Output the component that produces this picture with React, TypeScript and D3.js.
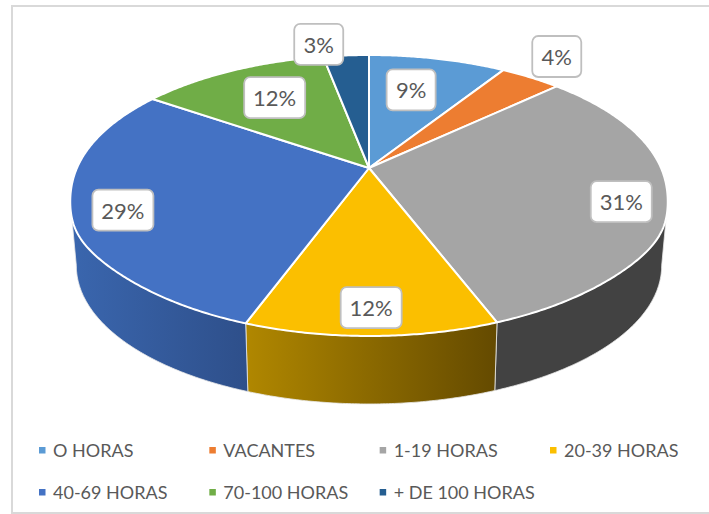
import React from "react";
import * as d3 from "d3";

const categories = ["O HORAS", "VACANTES", "1-19 HORAS", "20-39 HORAS", "40-69 HORAS", "70-100 HORAS", "+ DE 100 HORAS"];
const shares = [9, 4, 31.17, 11.43, 29, 12.4, 3];
const labels = ["9%", "4%", "31%", "12%", "29%", "12%", "3%"];
const topColors = ["#5B9BD5", "#ED7D31", "#A5A5A5", "#FBBF00", "#4472C4", "#70AD47", "#255E91"];

// label placement: radial reach from the apex, plus a nudge in pixels
const labelReach = [0.68, 1.25, 0.85, 0.86, 0.85, 0.67, 1.12];
const labelNudgeX = [-7, -8, 1, 0, 3, 2, -25];
const labelNudgeY = [0, -2, 7, 0, 5.5, -2, 0];

const W = 709;
const H = 514;
const CX = 369;
const K = 0.1957;

// perspective projection of the disc; `round` swells the lower flanks a little
const makeProject = (y0: number, rx: number, sy: number, round: number) => (a: number, t = 1) => {
  const X = t * Math.sin(a);
  const Y = t * Math.cos(a);
  const w = 1 + K * Y;
  const swell = 1 + round * Math.exp(-Math.pow((Y + 0.5) / 0.22, 2));
  return [CX + (rx * swell * X) / w, y0 - (sy * Y) / w] as [number, number];
};
const projTop = makeProject(168, 292, 135.1, 0.018);
const projLabel = makeProject(168, 292, 135.1, 0);
const projBot = makeProject(238.6, 287, 133, 0);

const DEG = Math.PI / 180;
const topMin = 110.2 * DEG;
const topMax = 249.8 * DEG;
const botMin = 101.3 * DEG;
const botMax = 258.7 * DEG;

const line = d3.line();
const arcPts = (proj: (a: number) => [number, number], a0: number, a1: number) => {
  const n = Math.max(2, Math.ceil((Math.abs(a1 - a0) / DEG) * 2));
  return d3.range(n + 1).map((i) => proj(a0 + ((a1 - a0) * i) / n));
};

const arcs = d3.pie<number>().sort(null).value((d) => d)(shares);

const sideFill: Record<number, string> = { 2: "#424242", 3: "url(#sideYellow)", 4: "url(#sideBlue)" };

const legendX = d3.scalePoint<number>().domain([0, 1, 2, 3]).range([39, 550]);
const legendY = d3.scalePoint<number>().domain([0, 1]).range([450, 492]);
const legendCols = 4;

const FONT = "Lato, Carlito, Calibri, sans-serif";

export default function App() {
  return (
    <svg width={W} height={H} viewBox={`0 0 ${W} ${H}`} style={{ position: "absolute", left: 0, top: 0, display: "block" }}>
      <defs>
        <linearGradient id="sideYellow" gradientUnits="userSpaceOnUse" x1={247} x2={497} y1={0} y2={0}>
          <stop offset="0" stopColor="#B08700" />
          <stop offset="1" stopColor="#644A00" />
        </linearGradient>
        <linearGradient id="sideBlue" gradientUnits="userSpaceOnUse" x1={72} x2={248} y1={0} y2={0}>
          <stop offset="0" stopColor="#3A66AE" />
          <stop offset="1" stopColor="#2E4F8A" />
        </linearGradient>
      </defs>
      <rect width={W} height={H} fill="#fff" />
      <path d={`M710,6 H12 V513 H710`} fill="none" stroke="#D9D9D9" strokeWidth={2} />

      {/* side wall */}
      {arcs.map((s, i) => {
        const t0 = Math.max(s.startAngle, topMin);
        const t1 = Math.min(s.endAngle, topMax);
        if (t1 <= t0) return null;
        const b0 = Math.max(s.startAngle, botMin);
        const b1 = Math.min(s.endAngle, botMax);
        const pts = [...arcPts(projTop, t0, t1), ...arcPts(projBot, b1, b0)];
        return <path key={i} d={line(pts) + "Z"} fill={sideFill[i]} stroke="#E8E8E8" strokeWidth={1} strokeOpacity={0.8} />;
      })}

      {/* top face */}
      {arcs.map((s, i) => {
        const pts = [projTop(0, 0), ...arcPts(projTop, s.startAngle, s.endAngle)];
        return <path key={i} d={line(pts) + "Z"} fill={topColors[i]} stroke="#fff" strokeWidth={2} strokeLinejoin="round" />;
      })}

      {/* data labels */}
      {arcs.map((s, i) => {
        const [px, py] = projLabel((s.startAngle + s.endAngle) / 2, labelReach[i]);
        const x = px + labelNudgeX[i];
        const y = py + labelNudgeY[i];
        const bw = labels[i].length > 2 ? 61 : 49;
        return (
          <g key={i}>
            <rect x={x - bw / 2} y={y - 20.5} width={bw} height={41} rx={6} fill="#fff" stroke="#BFBFBF" strokeWidth={1.8} />
            <text x={x} y={y + 8.5} textAnchor="middle" fontFamily={FONT} fontSize={22} fill="#595959">{labels[i]}</text>
          </g>
        );
      })}

      {/* legend */}
      {categories.map((c, i) => {
        const x = legendX(i % legendCols)!;
        const y = legendY(Math.floor(i / legendCols))!;
        return (
          <g key={c}>
            <rect x={x} y={y - 3} width={6.5} height={6.5} fill={topColors[i]} />
            <text x={x + 14} y={y + 6.5} fontFamily={FONT} fontSize={18} fill="#595959">{c}</text>
          </g>
        );
      })}
    </svg>
  );
}
